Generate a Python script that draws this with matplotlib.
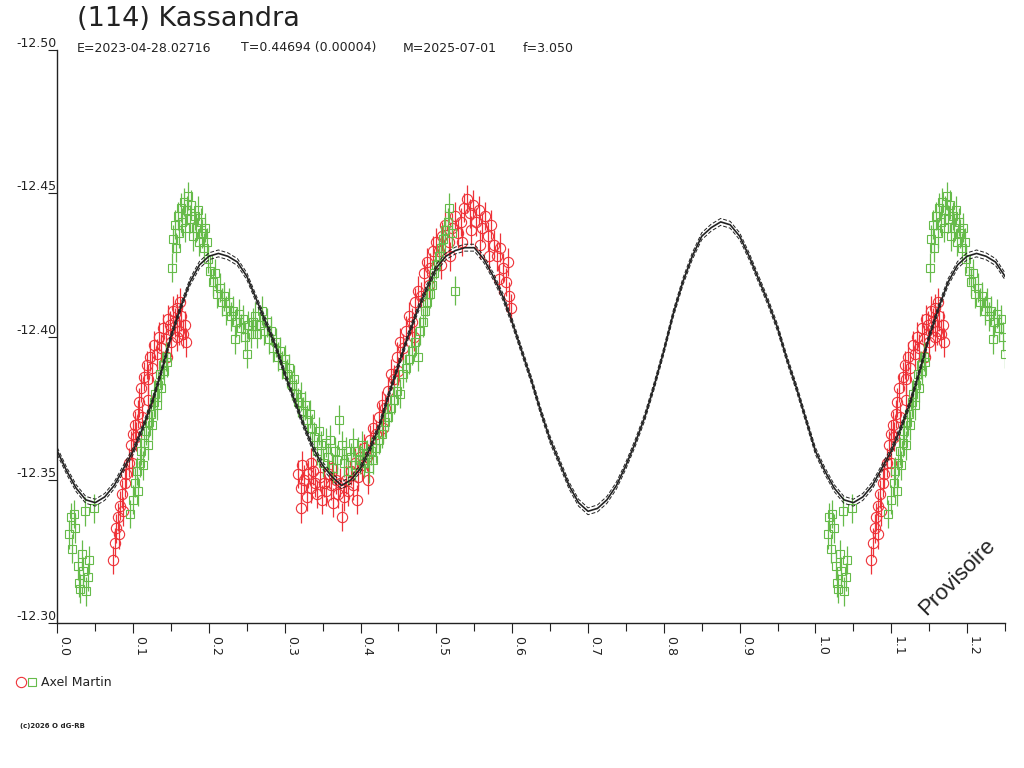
import numpy as np
import matplotlib
matplotlib.use("Agg")
import matplotlib.pyplot as plt
from matplotlib.lines import Line2D
from matplotlib.legend_handler import HandlerTuple
import matplotlib.transforms as mtransforms

# fitted lightcurve, phase 0..1 every 0.0125
curve_phase = np.linspace(0.0, 1.0, 81)
curve_mag = [-12.360, -12.353, -12.347, -12.343, -12.342, -12.344, -12.348, -12.354,
             -12.360, -12.368, -12.377, -12.388, -12.400, -12.410, -12.419, -12.425,
             -12.428, -12.429, -12.428, -12.426, -12.421, -12.413, -12.405, -12.397,
             -12.387, -12.378, -12.369, -12.361, -12.355, -12.351, -12.348, -12.350,
             -12.354, -12.361, -12.369, -12.380, -12.390, -12.400, -12.409, -12.417,
             -12.424, -12.428, -12.430, -12.431, -12.431, -12.427, -12.421, -12.414,
             -12.405, -12.395, -12.385, -12.374, -12.364, -12.356, -12.348, -12.342,
             -12.339, -12.340, -12.343, -12.348, -12.355, -12.363, -12.372, -12.383,
             -12.395, -12.408, -12.419, -12.428, -12.435, -12.438, -12.440, -12.439,
             -12.435, -12.428, -12.420, -12.412, -12.403, -12.392, -12.382, -12.371,
             -12.360]
curve_sigma = 0.0012

# session 1 (red circles)
red_phase = [0.073, 0.076, 0.078, 0.080, 0.082, 0.083, 0.085, 0.087, 0.089, 0.091,
             0.094, 0.097, 0.100, 0.102, 0.104, 0.106, 0.108, 0.110, 0.112, 0.115,
             0.118, 0.120, 0.122, 0.125, 0.128, 0.131, 0.134, 0.137, 0.140, 0.143,
             0.146, 0.149, 0.152, 0.155, 0.158, 0.160, 0.163, 0.166, 0.168, 0.170,
             0.150, 0.158, 0.162, 0.145, 0.099, 0.119,
             0.318, 0.321, 0.323, 0.326, 0.329, 0.331, 0.334, 0.337, 0.340, 0.343,
             0.346, 0.349, 0.352, 0.355, 0.358, 0.361, 0.364, 0.367, 0.370, 0.373,
             0.376, 0.378, 0.381, 0.384, 0.387, 0.390, 0.393, 0.396, 0.399, 0.402,
             0.405, 0.408, 0.322, 0.335, 0.362, 0.395, 0.410,
             0.412, 0.416, 0.420, 0.424, 0.428, 0.432, 0.436, 0.440, 0.444, 0.448,
             0.452, 0.456, 0.460, 0.464, 0.468, 0.472, 0.476, 0.480, 0.484, 0.488,
             0.492, 0.496, 0.430, 0.450, 0.470, 0.490,
             0.500, 0.504, 0.508, 0.512, 0.516, 0.520, 0.524, 0.528, 0.532, 0.536,
             0.540, 0.544, 0.548, 0.552, 0.556, 0.560, 0.564, 0.568, 0.572, 0.576,
             0.580, 0.584, 0.588, 0.592, 0.596, 0.599, 0.506, 0.518, 0.534, 0.546,
             0.558, 0.570, 0.582, 0.594]
red_mag = [-12.322, -12.328, -12.333, -12.337, -12.331, -12.341, -12.345, -12.339, -12.349, -12.352,
           -12.356, -12.362, -12.366, -12.369, -12.365, -12.373, -12.377, -12.382, -12.372, -12.386,
           -12.390, -12.385, -12.393, -12.389, -12.397, -12.394, -12.400, -12.396, -12.403, -12.399,
           -12.406, -12.404, -12.409, -12.405, -12.410, -12.402, -12.407, -12.401, -12.404, -12.398,
           -12.398, -12.400, -12.412, -12.393, -12.356, -12.378,
           -12.352, -12.347, -12.355, -12.350, -12.344, -12.352, -12.347, -12.353, -12.349, -12.345,
           -12.351, -12.343, -12.349, -12.346, -12.352, -12.348, -12.342, -12.350, -12.345, -12.349,
           -12.337, -12.344, -12.350, -12.346, -12.353, -12.348, -12.356, -12.351, -12.358, -12.355,
           -12.361, -12.358, -12.340, -12.356, -12.354, -12.343, -12.350,
           -12.364, -12.368, -12.366, -12.372, -12.376, -12.375, -12.381, -12.387, -12.385, -12.393,
           -12.398, -12.396, -12.402, -12.407, -12.405, -12.412, -12.416, -12.414, -12.422, -12.426,
           -12.424, -12.430, -12.368, -12.388, -12.400, -12.418,
           -12.433, -12.430, -12.435, -12.439, -12.433, -12.438, -12.442, -12.436, -12.440, -12.445,
           -12.448, -12.443, -12.446, -12.440, -12.444, -12.438, -12.442, -12.435, -12.439, -12.432,
           -12.428, -12.431, -12.424, -12.419, -12.414, -12.410, -12.425, -12.428, -12.433, -12.437,
           -12.432, -12.428, -12.420, -12.426]
red_err = 0.005

# session 2 (green squares)
green_phase = [0.016, 0.018, 0.020, 0.022, 0.024, 0.027, 0.029, 0.030, 0.032, 0.034,
               0.036, 0.038, 0.040, 0.042, 0.048,
               0.096, 0.100, 0.103, 0.105, 0.107, 0.109, 0.111, 0.113, 0.115, 0.117,
               0.119, 0.121, 0.123, 0.125, 0.127, 0.129, 0.131, 0.133, 0.135, 0.137,
               0.139, 0.141, 0.143, 0.145,
               0.151, 0.153, 0.155, 0.157, 0.159, 0.161, 0.163, 0.165, 0.167, 0.169,
               0.171, 0.173, 0.175, 0.177, 0.179, 0.181, 0.183, 0.185, 0.187, 0.189,
               0.191, 0.193, 0.195, 0.197,
               0.199, 0.202, 0.205, 0.208, 0.211, 0.214, 0.217, 0.220, 0.223, 0.226,
               0.229, 0.232, 0.234, 0.236, 0.239, 0.242, 0.245, 0.248, 0.250, 0.252,
               0.255, 0.258, 0.261, 0.264, 0.267, 0.270, 0.273, 0.276, 0.279, 0.282,
               0.285, 0.288, 0.291, 0.294, 0.297, 0.300, 0.303, 0.306, 0.309, 0.312,
               0.315, 0.318, 0.321, 0.324, 0.327, 0.330, 0.333, 0.336,
               0.339, 0.342, 0.345, 0.348, 0.351, 0.354, 0.357, 0.360, 0.363, 0.366,
               0.369, 0.372, 0.375, 0.378, 0.381, 0.384, 0.387, 0.390, 0.393, 0.396,
               0.399, 0.402, 0.405, 0.408, 0.411, 0.414, 0.417,
               0.420, 0.424, 0.428, 0.432, 0.436, 0.440, 0.444, 0.448, 0.452, 0.456,
               0.460, 0.464, 0.468, 0.472, 0.476, 0.479, 0.482, 0.485, 0.488, 0.491,
               0.494, 0.497, 0.500, 0.503, 0.506, 0.509, 0.512, 0.515, 0.517, 0.520,
               0.525]
green_mag = [-12.331, -12.337, -12.326, -12.338, -12.333, -12.320, -12.314, -12.312, -12.324, -12.318,
             -12.339, -12.311, -12.316, -12.322, -12.340,
             -12.338, -12.343, -12.349, -12.353, -12.346, -12.356, -12.360, -12.355, -12.363, -12.367,
             -12.362, -12.370, -12.373, -12.369, -12.377, -12.380, -12.376, -12.383, -12.387, -12.382,
             -12.390, -12.388, -12.393, -12.391,
             -12.424, -12.434, -12.439, -12.431, -12.442, -12.436, -12.445, -12.440, -12.447, -12.438,
             -12.444, -12.449, -12.441, -12.446, -12.435, -12.442, -12.438, -12.444, -12.433, -12.440,
             -12.436, -12.431, -12.438, -12.433,
             -12.427, -12.423, -12.419, -12.422, -12.415, -12.417, -12.412, -12.414, -12.409, -12.412,
             -12.407, -12.409, -12.399, -12.405, -12.408, -12.403, -12.406, -12.400, -12.394, -12.404,
             -12.401, -12.405, -12.407, -12.401, -12.404, -12.409, -12.402, -12.405, -12.399, -12.402,
             -12.396, -12.398, -12.393, -12.395, -12.390, -12.392, -12.387, -12.389, -12.383, -12.385,
             -12.380, -12.377, -12.379, -12.374, -12.376, -12.371, -12.373, -12.368,
             -12.365, -12.360, -12.367, -12.362, -12.356, -12.363, -12.358, -12.364, -12.354, -12.360,
             -12.357, -12.371, -12.362, -12.356, -12.360, -12.353, -12.358, -12.363, -12.355, -12.360,
             -12.357, -12.362, -12.356, -12.359, -12.354, -12.360, -12.357,
             -12.361, -12.364, -12.366, -12.370, -12.372, -12.375, -12.378, -12.381, -12.380, -12.387,
             -12.389, -12.392, -12.395, -12.398, -12.393, -12.402, -12.405, -12.409, -12.412, -12.415,
             -12.418, -12.422, -12.425, -12.428, -12.431, -12.434, -12.437, -12.440, -12.445, -12.436,
             -12.416]
green_err = 0.005

ytick_vals = [-12.50, -12.45, -12.40, -12.35, -12.30]
ytick_labels = ["-12.50", "-12.45", "-12.40", "-12.35", "-12.30"]
xtick_vals = np.round(np.arange(0, 1.21, 0.1), 2)
xtick_labels = ["%.1f" % v for v in xtick_vals]

RED = "#ee3238"
GREEN = "#66bb4a"
INK = "#222222"


def wrap(ph, mag, xmax=1.25):
    # repeat the start of the cycle past phase 1
    ph = np.asarray(ph, float)
    mag = np.asarray(mag, float)
    m = ph + 1 <= xmax + 1e-9
    return np.concatenate([ph, ph[m] + 1]), np.concatenate([mag, mag[m]])


fig = plt.figure(figsize=(10.24, 7.68), dpi=100)
ax = fig.add_axes([57.3 / 1024, 1 - 623 / 768, (1005 - 57.3) / 1024, (623 - 50) / 768])

rx, ry = wrap(red_phase, red_mag)
gx, gy = wrap(green_phase, green_mag)
ax.errorbar(rx, ry, yerr=red_err, fmt="o", ms=7.4, mfc="none", mec=RED, mew=0.8,
            ecolor=RED, elinewidth=0.9, capsize=0, zorder=2)
ax.errorbar(gx, gy, yerr=green_err, fmt="s", ms=5.4, mfc="none", mec=GREEN, mew=0.8,
            ecolor=GREEN, elinewidth=0.9, capsize=0, zorder=3)

cx, cy = wrap(curve_phase, curve_mag)
order = np.argsort(cx, kind="stable")
cx, cy = cx[order], cy[order]
ax.plot(cx, cy, color=INK, lw=1.2, zorder=4)
ax.plot(cx, cy - curve_sigma, color=INK, lw=0.7, ls=(0, (4, 2)), zorder=4)
ax.plot(cx, cy + curve_sigma, color=INK, lw=0.7, ls=(0, (4, 2)), zorder=4)

ax.set_xlim(0, 1.25)
ax.set_ylim(-12.30, -12.50)
for s in ["top", "right"]:
    ax.spines[s].set_visible(False)
for s in ["left", "bottom"]:
    ax.spines[s].set_color(INK)
    ax.spines[s].set_linewidth(1.0)

ax.set_xticks(xtick_vals)
ax.set_xticklabels(xtick_labels, rotation=270, ha="left", fontsize=9, color=INK)
ax.set_xticks(np.round(np.arange(0.05, 1.26, 0.1), 2), minor=True)
ax.tick_params(axis="x", which="major", length=7, width=0.8, color=INK, pad=2)
ax.tick_params(axis="x", which="minor", length=5.5, width=0.8, color=INK)

ax.set_yticks(ytick_vals)
ax.tick_params(axis="y", length=6.5, width=0.8, color=INK, labelleft=False)
ytrans = mtransforms.blended_transform_factory(ax.transAxes, ax.transData)
for v, lab in zip(ytick_vals, ytick_labels):
    ax.text(-0.001, v, lab, transform=ytrans, ha="right", va="bottom",
            fontsize=9, color=INK)

# header
fig.text(77 / 1024, 1 - 19 / 768, "(114) Kassandra", fontsize=19.5, color=INK,
         ha="left", va="center")
for xpx, txt in [(77, "E=2023-04-28.02716"), (241, "T=0.44694 (0.00004)"),
                 (403, "M=2025-07-01"), (523, "f=3.050")]:
    fig.text(xpx / 1024, 1 - 48 / 768, txt, fontsize=9, color=INK, ha="left", va="center")

fig.text(957 / 1024, 1 - 577 / 768, "Provisoire", fontsize=16, rotation=45,
         ha="center", va="center", color=INK, family="Liberation Sans")

h_red = Line2D([], [], marker="o", ls="none", ms=7.4, mfc="none", mec=RED, mew=0.8)
h_green = Line2D([], [], marker="s", ls="none", ms=5.4, mfc="none", mec=GREEN, mew=0.8)
fig.legend(handles=[(h_red, h_green)], labels=["Axel Martin"],
           handler_map={tuple: HandlerTuple(ndivide=None, pad=0.2)},
           loc="center left", bbox_to_anchor=(10 / 1024, 1 - 683 / 768),
           frameon=False, fontsize=9, handlelength=1.6, handletextpad=0.4,
           labelcolor=INK, borderpad=0)

fig.text(20 / 1024, 1 - 726 / 768, "(c)2026 O dG-RB", fontsize=5, color=INK,
         ha="left", va="center", fontweight="bold")

fig.savefig("out.png", dpi=100)
